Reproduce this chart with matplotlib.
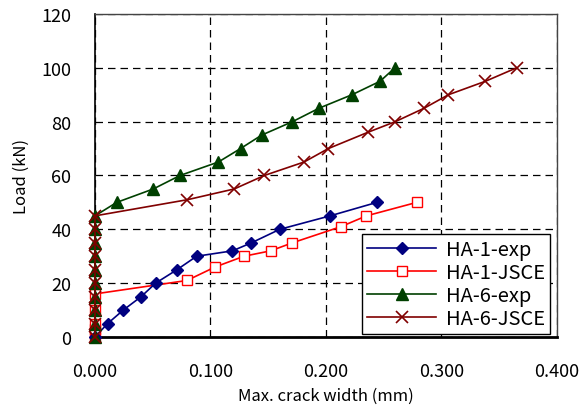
import matplotlib.pyplot as plt

plt.rcParams['font.family'] = ['Noto Sans CJK JP', 'DejaVu Sans']

# HA-1 test results
ha1_exp_w = [0.0, 0.011, 0.0245, 0.040, 0.0525, 0.071, 0.088, 0.119, 0.1355, 0.160, 0.2035, 0.244]
ha1_exp_p = [0, 5, 10, 15, 20, 25, 30, 32, 35, 40, 45, 50]

# HA-1 JSCE prediction
ha1_jsce_w = [0.0, 0.0, 0.0, 0.0, 0.0, 0.0797, 0.104, 0.129, 0.152, 0.171, 0.213, 0.235, 0.2785]
ha1_jsce_p = [0, 3, 5, 10, 16, 21, 26, 30, 32, 35, 41, 45, 50]

# HA-6 test results
ha6_exp_w = [0.0] * 10 + [0.0188, 0.0505, 0.0736, 0.1068, 0.126, 0.1443, 0.171, 0.194, 0.2225, 0.2468, 0.2597]
ha6_exp_p = [0, 5, 10, 15, 20, 25, 30, 35, 40, 45, 50, 55, 60, 65, 70, 75, 80, 85, 90, 95, 100]

# HA-6 JSCE prediction
ha6_jsce_w = [0.0] * 10 + [0.080, 0.1206, 0.1466, 0.181, 0.202, 0.236, 0.260, 0.285, 0.306, 0.338, 0.365]
ha6_jsce_p = [0, 5, 10, 15, 20, 25, 30, 35, 40, 45, 51, 55, 60, 65, 70, 76, 80, 85, 90, 95, 100]

x_ticks = [0.0, 0.1, 0.2, 0.3, 0.4]
y_ticks = [0, 20, 40, 60, 80, 100, 120]

fig = plt.figure(figsize=(5.87, 4.14), dpi=100)
ax = fig.add_axes([0.1618, 0.1836, 0.7871, 0.7802])

ax.plot(ha1_exp_w, ha1_exp_p, color='#000080', lw=1.2, marker='D', ms=6,
        label='HA-1-exp', zorder=4, clip_on=False)
ax.plot(ha1_jsce_w, ha1_jsce_p, color='#FF0000', lw=1.2, marker='s', ms=7,
        mfc='white', mec='#FF0000', mew=1.0, label='HA-1-JSCE', zorder=3,
        clip_on=False)
ax.plot(ha6_exp_w, ha6_exp_p, color='#004000', lw=1.2, marker='^', ms=8,
        label='HA-6-exp', zorder=4, clip_on=False)
ax.plot(ha6_jsce_w, ha6_jsce_p, color='#800000', lw=1.2, marker='x', ms=8,
        mew=1.2, label='HA-6-JSCE', zorder=5, clip_on=False)

ax.set_xlim(0, 0.4)
ax.set_ylim(0, 120)
ax.set_xticks(x_ticks)
ax.set_yticks(y_ticks)
ax.set_xticklabels(['%.3f' % v for v in x_ticks], fontsize=13)
ax.set_yticklabels([str(v) for v in y_ticks], fontsize=13)
ax.tick_params(axis='x', length=0, pad=18)
ax.tick_params(axis='y', length=0, pad=17)

ax.grid(True, color='black', ls=(0, (6, 4)), lw=0.9)
ax.set_axisbelow(True)

for side in ('top', 'right'):
    ax.spines[side].set_color('#444444')
    ax.spines[side].set_linewidth(1.0)
ax.spines['left'].set_linewidth(1.2)
ax.spines['bottom'].set_linewidth(2.0)

ax.set_xlabel('Max. crack width (mm)', fontsize=12, labelpad=5)
ax.set_ylabel('Load (kN)', fontsize=12, labelpad=8)

leg = ax.legend(loc='upper right', bbox_to_anchor=(0.985, 0.319), fontsize=14.5,
                frameon=True, fancybox=False, borderaxespad=0, handlelength=3.4,
                labelspacing=0.1, borderpad=0.25, handletextpad=0.5)
leg.get_frame().set_edgecolor('black')
leg.get_frame().set_linewidth(1.0)
leg.get_frame().set_alpha(1.0)
leg.set_zorder(10)

fig.savefig('out.png', dpi=100)
